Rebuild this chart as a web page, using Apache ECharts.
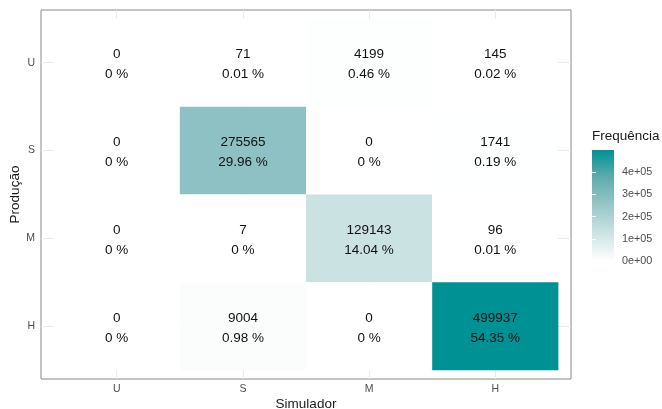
<!DOCTYPE html>
<html><head><meta charset="utf-8">
<script src="https://cdn.jsdelivr.net/npm/echarts@6/dist/echarts.min.js"></script>
<style>html,body{margin:0;padding:0;background:#fff}#c{width:662px;height:409px}</style>
</head><body><div id="c"></div>
<script>
// Categories
const simCats = ['U', 'S', 'M', 'H'];   // x: Simulador
const prodCats = ['U', 'S', 'M', 'H'];  // y: Produção (top to bottom)
// Counts per Produção row
const countsU = [0, 71, 4199, 145];
const countsS = [0, 275565, 0, 1741];
const countsM = [0, 7, 129143, 96];
const countsH = [0, 9004, 0, 499937];
// Percentages per Produção row
const pctU = [0, 0.01, 0.46, 0.02];
const pctS = [0, 29.96, 0, 0.19];
const pctM = [0, 0, 14.04, 0.01];
const pctH = [0, 0.98, 0, 54.35];
// Legend ticks
const legendTicks = [0, 100000, 200000, 300000, 400000];
const fillColors = ['#FFFFFF', '#CCE3E3', '#98C7C8', '#61ACAE', '#009194'];

const counts = [countsU, countsS, countsM, countsH];
const pcts = [pctU, pctS, pctM, pctH];
const cells = [];
prodCats.forEach((p, yi) => simCats.forEach((s, xi) => cells.push([xi, yi, counts[yi][xi], pcts[yi][xi]])));
const maxVal = Math.max(...cells.map(c => c[2]));
const FONT = '"Liberation Sans", Arial, sans-serif';

function sci(v) {
  if (v === 0) return '0e+00';
  const e = Math.floor(Math.log10(v));
  const m = Math.round(v / Math.pow(10, e));
  return m + 'e' + (e < 0 ? '-' : '+') + String(Math.abs(e)).padStart(2, '0');
}

const chart = echarts.init(document.getElementById('c'), null, {renderer: 'canvas'});
const idx = [0, 1, 2, 3];
chart.setOption({
  animation: false,
  backgroundColor: '#fff',
  grid: [
    {left: 41, top: 10, width: 530, height: 369, show: true, borderColor: '#888', borderWidth: 1, backgroundColor: '#fff', outerBoundsMode: 'none', containLabel: false},
    {left: 592, top: 150, width: 22, height: 111, show: false, outerBoundsMode: 'none', containLabel: false}
  ],
  xAxis: [
    {gridIndex: 0, type: 'value', min: -0.6, max: 3.6,
     name: 'Simulador', nameLocation: 'middle', nameGap: 18, nameMoveOverlap: false,
     nameTextStyle: {fontSize: 13.5, color: '#1a1a1a', fontFamily: FONT},
     axisLine: {show: false},
     axisTick: {show: true, customValues: idx, length: 3, lineStyle: {color: '#333'}},
     axisLabel: {customValues: idx, formatter: v => simCats[Math.round(v)], color: '#4d4d4d', fontSize: 10.5, fontFamily: FONT, margin: 5},
     splitLine: {show: true, lineStyle: {color: '#ebebeb', width: 1}}},
    {gridIndex: 1, type: 'value', min: 0, max: 1, show: false}
  ],
  yAxis: [
    {gridIndex: 0, type: 'value', min: -0.6, max: 3.6, inverse: true,
     name: 'Produção', nameLocation: 'middle', nameGap: 19, nameMoveOverlap: false,
     nameTextStyle: {fontSize: 13.5, color: '#1a1a1a', fontFamily: FONT},
     axisLine: {show: false},
     axisTick: {show: true, customValues: idx, length: 3, lineStyle: {color: '#333'}},
     axisLabel: {customValues: idx, formatter: v => prodCats[Math.round(v)], color: '#4d4d4d', fontSize: 10.5, fontFamily: FONT, margin: 6},
     splitLine: {show: true, lineStyle: {color: '#ebebeb', width: 1}}},
    {gridIndex: 1, type: 'value', min: 0, max: maxVal, position: 'right', z: 5,
     axisLine: {show: false},
     axisTick: {show: true, inside: true, customValues: legendTicks, length: 4, lineStyle: {color: '#fff', width: 1}},
     axisLabel: {customValues: legendTicks, formatter: v => sci(v), color: '#4d4d4d', fontSize: 10.8, fontFamily: FONT, margin: 8},
     splitLine: {show: false}},
    {gridIndex: 1, type: 'value', min: 0, max: maxVal, position: 'left', z: 5,
     axisLine: {show: false},
     axisTick: {show: true, inside: true, customValues: legendTicks, length: 4, lineStyle: {color: '#fff', width: 1}},
     axisLabel: {show: false},
     splitLine: {show: false}}
  ],
  visualMap: {
    type: 'continuous', show: false, seriesIndex: 0, dimension: 2,
    min: 0, max: maxVal, inRange: {color: fillColors}
  },
  graphic: [
    {type: 'text', left: 592, top: 129, style: {text: 'Frequência', font: '13.5px ' + FONT, fill: '#1a1a1a'}}
  ],
  series: [
    {type: 'custom', xAxisIndex: 0, yAxisIndex: 0, data: cells,
     renderItem(params, api) {
       const x = api.value(0), y = api.value(1);
       const a = api.coord([x - 0.5, y - 0.5]), b = api.coord([x + 0.5, y + 0.5]);
       const c = api.coord([x, y]);
       return {type: 'group', children: [
         {type: 'rect', shape: {x: Math.min(a[0], b[0]), y: Math.min(a[1], b[1]), width: Math.abs(b[0] - a[0]), height: Math.abs(b[1] - a[1])},
          style: {fill: api.visual('color')}},
         {type: 'text', x: c[0], y: c[1] + 2, style: {text: api.value(2) + '\n' + api.value(3) + ' %', align: 'center', verticalAlign: 'middle',
          font: '13.5px ' + FONT, fill: '#111', lineHeight: 20}}
       ]};
     }},
    {type: 'custom', xAxisIndex: 1, yAxisIndex: 1, data: [[1, maxVal]],
     renderItem(params, api) {
       const a = api.coord([0, 0]), b = api.coord([api.value(0), api.value(1)]);
       const stops = fillColors.map((col, i) => ({offset: i / (fillColors.length - 1), color: col}));
       return {type: 'rect', shape: {x: a[0], y: b[1], width: b[0] - a[0], height: a[1] - b[1]},
         style: {fill: new echarts.graphic.LinearGradient(0, 1, 0, 0, stops)}};
     }}
  ]
});
</script></body></html>
